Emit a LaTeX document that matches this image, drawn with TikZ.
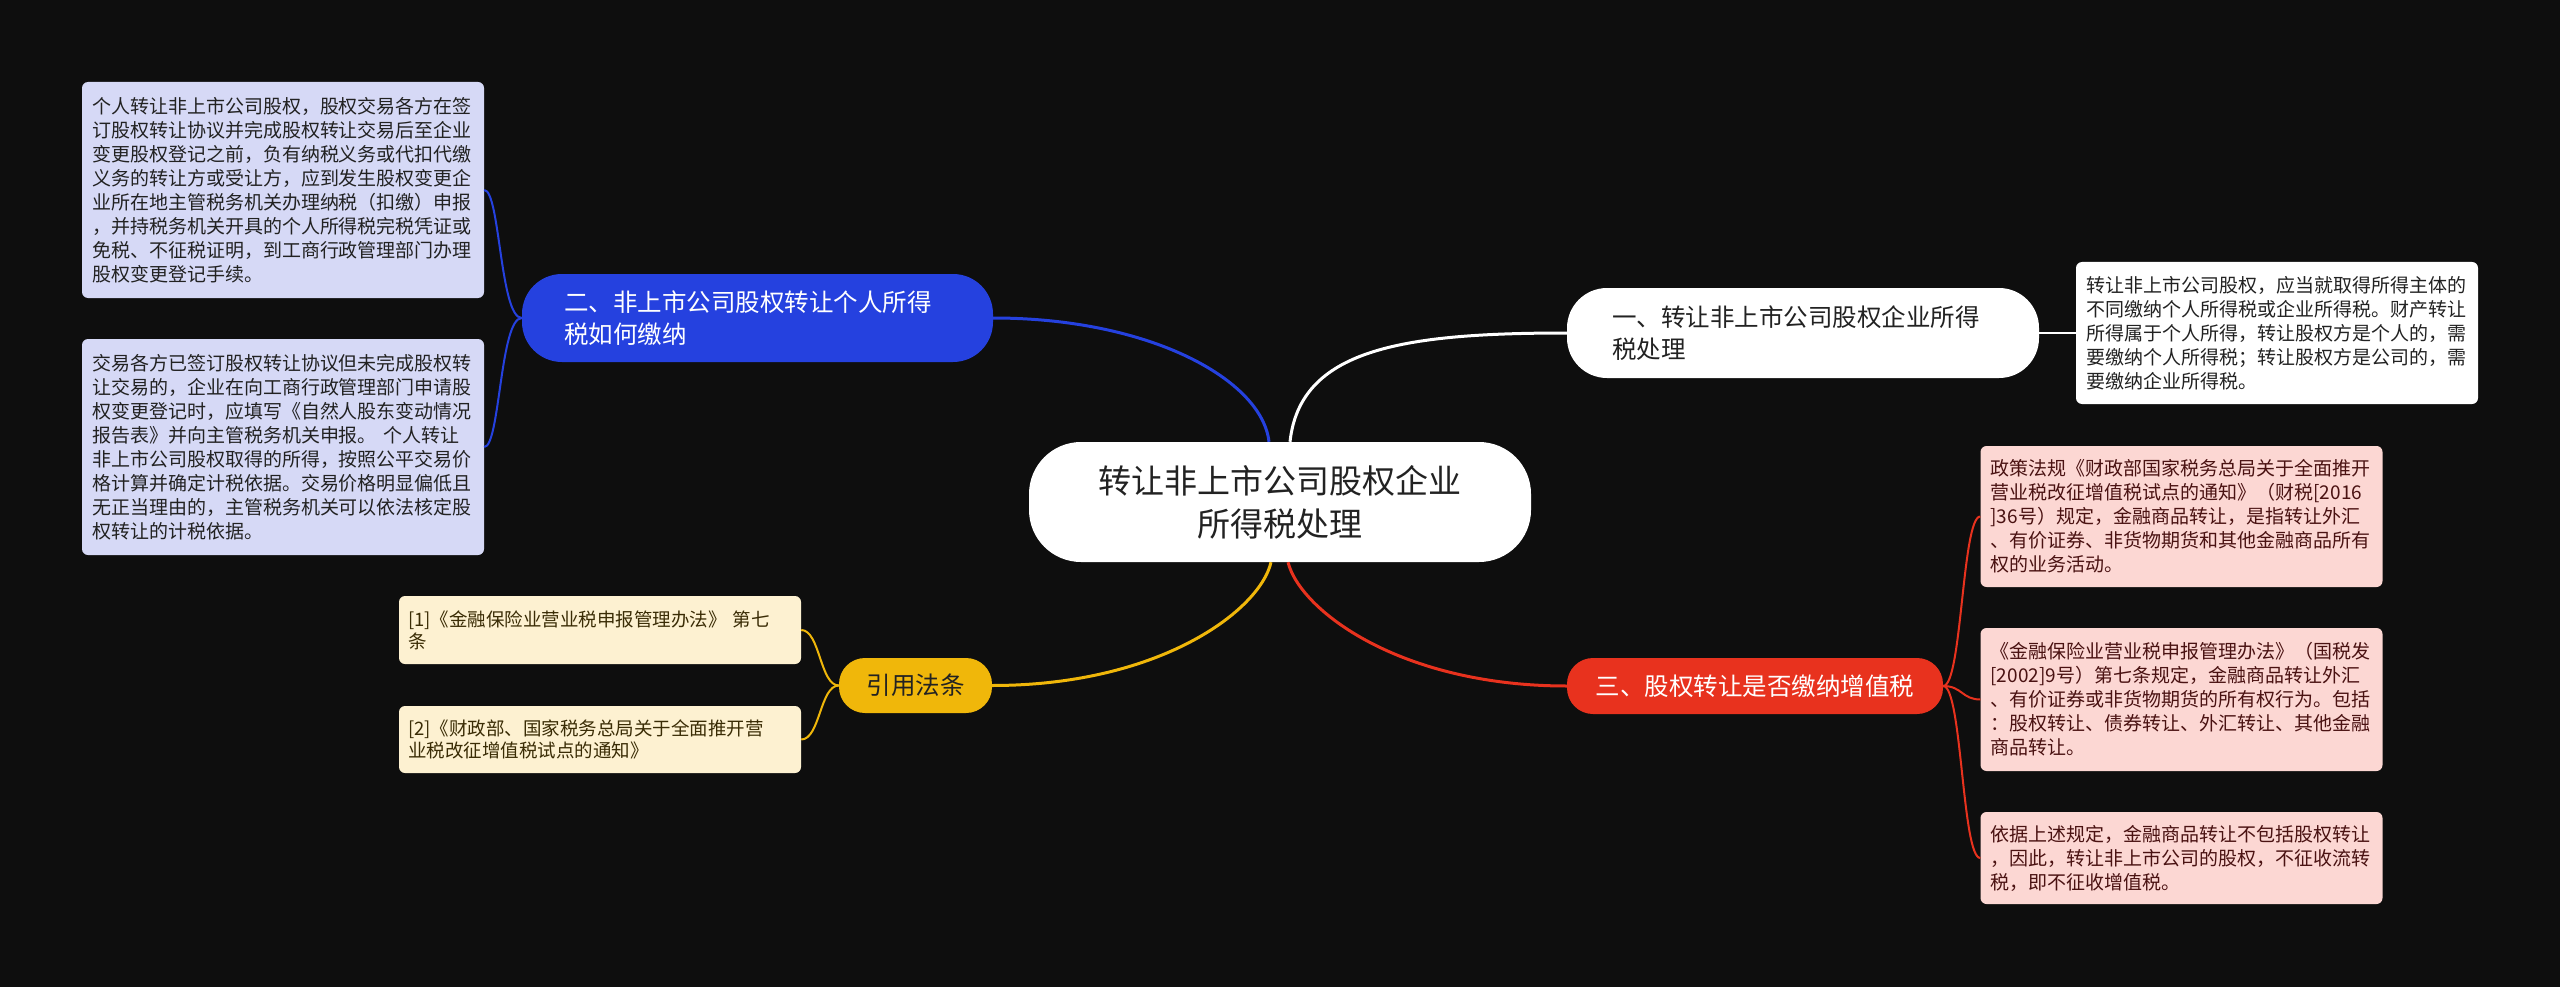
\documentclass[tikz,border=0pt]{standalone}
\usepackage{fontspec}
\setmainfont{Noto Sans CJK SC}
\usetikzlibrary{calc}
\definecolor{bg}{HTML}{0E0E0E}
\definecolor{cblue}{HTML}{2541DF}
\definecolor{cred}{HTML}{E8321E}
\definecolor{cyellow}{HTML}{F0B70A}
\definecolor{lavfill}{HTML}{D6D9F6}
\definecolor{redfill}{HTML}{FCD7D3}
\definecolor{yelfill}{HTML}{FDF1D1}
\definecolor{darktext}{HTML}{222222}
\definecolor{redtext}{HTML}{4A1212}
\definecolor{yeltext}{HTML}{3A2C05}
\begin{document}
\begin{tikzpicture}[x=1pt,y=-1pt,
  detail/.style={rounded corners=6pt, font=\fontsize{19}{24}\selectfont, text width=382pt, inner xsep=10pt, inner ysep=0pt, align=left},
  lavbox/.style={detail, fill=lavfill, text=darktext},
  redbox/.style={detail, fill=redfill, text=redtext},
  whitebox/.style={detail, fill=white, text=darktext},
  yelbox/.style={detail, fill=yelfill, text=yeltext, font=\fontsize{18.5}{22}\selectfont, inner xsep=9pt, text width=384pt},
  branch/.style={font=\fontsize{24.5}{32}\selectfont, inner ysep=0pt, align=left},
  mainline/.style={line width=3pt},
  subline/.style={line width=2pt}
]
\useasboundingbox (0,0) rectangle (2560,987);
\fill[bg] (0,0) rectangle (2560,987);

% central
\node[fill=white, text=darktext, rounded corners=52pt, font=\fontsize{33}{43}\selectfont, align=center, text width=440pt, inner xsep=31pt, minimum height=120pt, inner ysep=0pt] (c) at (1280,502) {转让非上市公司股权企业\\所得税处理};

% branches
\node[branch, fill=cblue, text=white, rounded corners=40pt, text width=387pt, inner xsep=42pt, minimum height=88pt] (b2) at (757.5,318) {二、非上市公司股权转让个人所得\\税如何缴纳};
\node[branch, fill=white, text=darktext, rounded corners=40pt, text width=382pt, inner xsep=45pt, minimum height=90pt] (b1) at (1803,333) {一、转让非上市公司股权企业所得\\税处理};
\node[branch, fill=cred, text=white, rounded corners=26pt, align=center, minimum width=376pt, minimum height=56pt] (b3) at (1755,686) {三、股权转让是否缴纳增值税};
\node[branch, fill=cyellow, text=darktext, rounded corners=26pt, align=center, minimum width=153pt, minimum height=55pt] (b4) at (915.5,685.5) {引用法条};

% details
\node[lavbox, minimum height=216pt] (l1) at (283,190) {个人转让非上市公司股权，股权交易各方在签\\订股权转让协议并完成股权转让交易后至企业\\变更股权登记之前，负有纳税义务或代扣代缴\\义务的转让方或受让方，应到发生股权变更企\\业所在地主管税务机关办理纳税（扣缴）申报\\，并持税务机关开具的个人所得税完税凭证或\\免税、不征税证明，到工商行政管理部门办理\\股权变更登记手续。};
\node[lavbox, minimum height=216pt] (l2) at (283,447) {交易各方已签订股权转让协议但未完成股权转\\让交易的，企业在向工商行政管理部门申请股\\权变更登记时，应填写《自然人股东变动情况\\报告表》并向主管税务机关申报。 个人转让\\非上市公司股权取得的所得，按照公平交易价\\格计算并确定计税依据。交易价格明显偏低且\\无正当理由的，主管税务机关可以依法核定股\\权转让的计税依据。};
\node[whitebox, minimum height=142pt] (w1) at (2277,333) {转让非上市公司股权，应当就取得所得主体的\\不同缴纳个人所得税或企业所得税。财产转让\\所得属于个人所得，转让股权方是个人的，需\\要缴纳个人所得税；转让股权方是公司的，需\\要缴纳企业所得税。};
\node[redbox, minimum height=141pt] (r1) at (2181.5,516.5) {政策法规《财政部国家税务总局关于全面推开\\营业税改征增值税试点的通知》（财税{[}2016\\{]}36号）规定，金融商品转让，是指转让外汇\\、有价证券、非货物期货和其他金融商品所有\\权的业务活动。};
\node[redbox, minimum height=143pt] (r2) at (2181.5,699.5) {《金融保险业营业税申报管理办法》（国税发\\{[}2002{]}9号）第七条规定，金融商品转让外汇\\、有价证券或非货物期货的所有权行为。包括\\：股权转让、债券转让、外汇转让、其他金融\\商品转让。};
\node[redbox, minimum height=92pt] (r3) at (2181.5,858) {依据上述规定，金融商品转让不包括股权转让\\，因此，转让非上市公司的股权，不征收流转\\税，即不征收增值税。};
\node[yelbox, minimum height=68pt] (y1) at (600,630) {{[}1{]}《金融保险业营业税申报管理办法》 第七\\条};
\node[yelbox, minimum height=67pt] (y2) at (600,739.5) {{[}2{]}《财政部、国家税务总局关于全面推开营\\业税改征增值税试点的通知》};

% main connectors
\draw[mainline, cblue] ($(c.north)+(-11,0)$) .. controls ($(c.north)+(-18,-62)$) and ($(b2.east)+(157,0)$) .. (b2.east);
\draw[mainline, white] ($(c.north)+(10,0)$) .. controls ($(c.north)+(20,-92)$) and ($(b1.west)+(-167,0)$) .. (b1.west);
\draw[mainline, cyellow] ($(c.south)+(-9,0)$) .. controls ($(c.south)+(-20,48)$) and ($(b4.east)+(168,0)$) .. (b4.east);
\draw[mainline, cred] ($(c.south)+(8,0)$) .. controls ($(c.south)+(20,48)$) and ($(b3.west)+(-167,0)$) .. (b3.west);

% sub connectors
\draw[subline, cblue] (b2.west) .. controls (500,318) and (500,190) .. (l1.east);
\draw[subline, cblue] (b2.west) .. controls (500,318) and (500,447) .. (l2.east);
\draw[subline, white] (b1.east) -- (w1.west);
\draw[subline, cred] (b3.east) .. controls (1962,686) and (1962,516.5) .. (r1.west);
\draw[subline, cred] (b3.east) .. controls (1962,686) and (1962,699.5) .. (r2.west);
\draw[subline, cred] (b3.east) .. controls (1962,686) and (1962,858) .. (r3.west);
\draw[subline, cyellow] (b4.west) .. controls (820,685.5) and (820,630) .. (y1.east);
\draw[subline, cyellow] (b4.west) .. controls (820,685.5) and (820,739.5) .. (y2.east);
\end{tikzpicture}
\end{document}
